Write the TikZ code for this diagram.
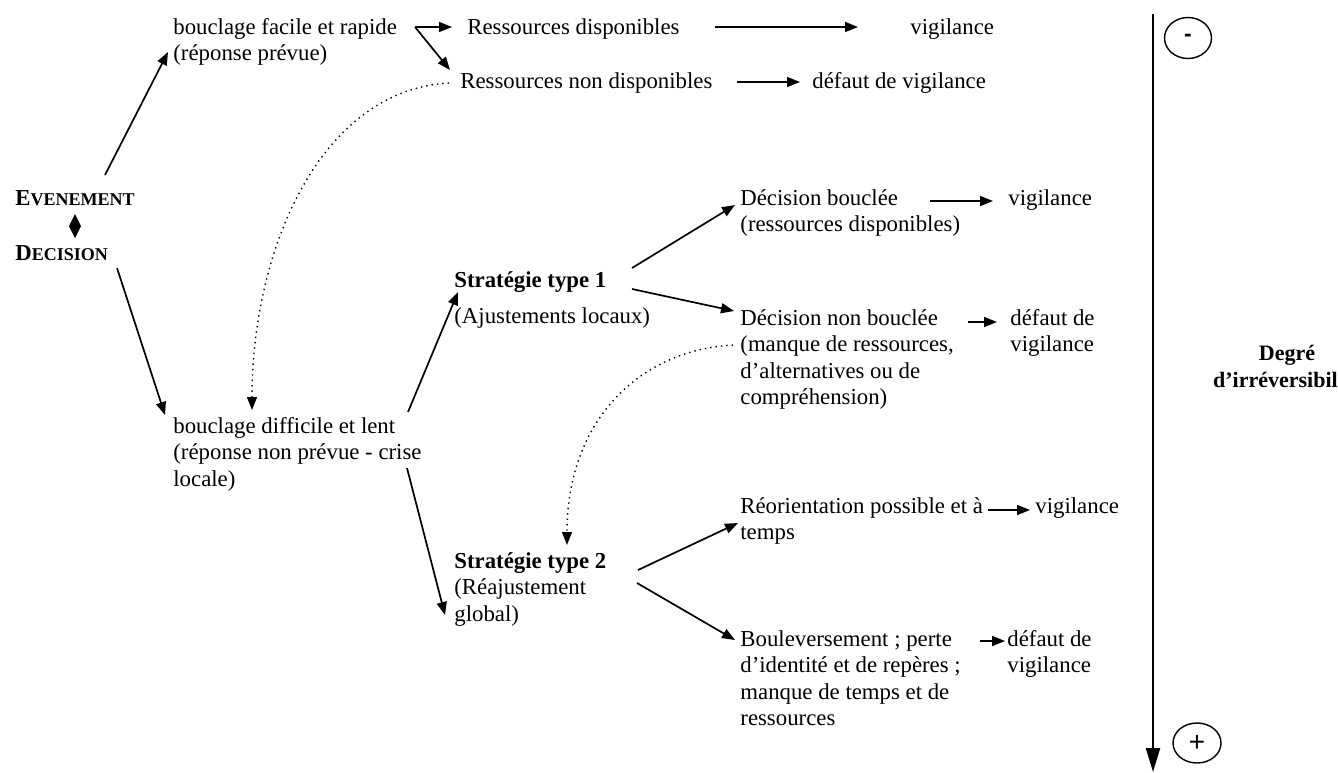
\documentclass[tikz,border=0pt]{standalone}
\usepackage{fontspec}
\setmainfont{Liberation Serif}
\newfontfamily\sansf{Liberation Sans}
\usetikzlibrary{arrows.meta,shapes.geometric,calc}
\newcommand{\lignes}[1]{\begin{tabular}[t]{@{}l@{}}#1\end{tabular}}

\begin{document}
\begin{tikzpicture}[x = 0.5pt, y = -0.5pt,
    every node/.style = {inner sep = 0pt, anchor = base west,
      font = \fontsize{11.4}{13.25}\selectfont},
    fleche/.style = {-{Triangle[length = 6.5pt, width = 5pt]}, line width = 0.85pt},
    pointille/.style = {dotted, -{Triangle[length = 6.5pt, width = 5pt]}, line width = 0.7pt}]
    \useasboundingbox (0,0) rectangle (1338,772);

    \node (ev) at (15,205) {\bfseries E{\fontsize{9}{10}\selectfont VENEMENT}};
    \fill (75,214) -- (81,226) -- (75,238) -- (69,226) -- cycle;
    \node (dec) at (15,260) {\bfseries D{\fontsize{9}{10}\selectfont ECISION}};

    \node (bf) at (173,34) {\lignes{bouclage facile et rapide\\(réponse prévue)}};
    \node (rd) at (467,34) {Ressources disponibles};
    \node (v1) at (910,34) {vigilance};
    \node (rnd) at (460,88) {Ressources non disponibles};
    \node (dv1) at (812,88) {défaut de vigilance};

    \node (bd) at (173,433) {\lignes{bouclage difficile et lent\\(réponse non prévue - crise\\locale)}};
    \node (s1) at (454,287) {\lignes{\bfseries Stratégie type 1\\[4.75pt](Ajustements locaux)}};
    \node (s2) at (454,568) {\lignes{\bfseries Stratégie type 2\\(Réajustement\\global)}};

    \node (d1) at (740,205) {\lignes{Décision bouclée\\(ressources disponibles)}};
    \node (v2) at (1008,205) {vigilance};
    \node (d2) at (740,325) {\lignes{Décision non bouclée\\(manque de ressources,\\d’alternatives ou de\\compréhension)}};
    \node (dv2) at (1010,325) {\lignes{défaut de\\vigilance}};
    \node (r1) at (740,513) {\lignes{Réorientation possible et à\\temps}};
    \node (v3) at (1035,513) {vigilance};
    \node (b1) at (740,646) {\lignes{Bouleversement ; perte\\d’identité et de repères ;\\manque de temps et de\\ressources}};
    \node (dv3) at (1007,646) {\lignes{défaut de\\vigilance}};

    \draw[fleche] ($(ev.base west)+(90,-30)$) -- ($(bf.base west)+(-5,18)$);
    \draw[fleche] ($(dec.base west)+(102,8)$) -- ($(bd.base west)+(-8,-18)$);
    \draw[fleche] ($(bf.base west)+(242,-7)$) -- ($(rd.base west)+(-15,-7)$);
    \draw[fleche] ($(bf.base west)+(242,-7)$) -- ($(rnd.base west)+(-10,-18)$);
    \draw[fleche] ($(rd.base west)+(248,-7)$) -- ($(v1.base west)+(-52,-7)$);
    \draw[fleche] ($(rnd.base west)+(277,-6)$) -- ($(dv1.base west)+(-12,-6)$);
    \draw[pointille] ($(rnd.base west)+(-11,-5)$) .. controls (320,90) and (252,250) .. ($(bd.base west)+(79,-23)$);

    \draw[fleche] ($(bd.base west)+(235,-21)$) -- ($(s1.base west)+(4,5)$);
    \draw[fleche] ($(bd.base west)+(234,35)$) -- ($(s2.base west)+(-9,47)$);
    \draw[fleche] ($(s1.base west)+(178,-19)$) -- ($(d1.base west)+(-5,0)$);
    \draw[fleche] ($(s1.base west)+(178,2)$) -- ($(d2.base west)+(-6,-14)$);
    \draw[fleche] ($(d1.base west)+(190,-4)$) -- ($(v2.base west)+(-15,-4)$);
    \draw[fleche] ($(d2.base west)+(228,-3)$) -- ($(dv2.base west)+(-13,-3)$);
    \draw[pointille] ($(d2.base west)+(-7,20)$) .. controls (640,350) and (567,420) .. ($(s2.base west)+(113,-23)$);

    \draw[fleche] ($(s2.base west)+(184,2)$) -- ($(r1.base west)+(-2,10)$);
    \draw[fleche] ($(s2.base west)+(183,15)$) -- ($(b1.base west)+(-5,-6)$);
    \draw[fleche] ($(r1.base west)+(248,-3)$) -- ($(v3.base west)+(-5,-3)$);
    \draw[fleche] ($(b1.base west)+(240,-5)$) -- ($(dv3.base west)+(-2,-5)$);

    \draw[-{Triangle[length = 12pt, width = 7pt]}, line width = 1.1pt] (1153,14) -- (1153,772);
    \node[draw, ellipse, line width = 0.7pt, anchor = center, minimum width = 23.5pt, minimum height = 20.5pt] (moins) at (1188,38) {\sansf\bfseries -};
    \node[draw, ellipse, line width = 0.7pt, anchor = center, minimum width = 24pt, minimum height = 20pt] (plus) at (1197,743) {\sansf\fontsize{14}{14}\selectfont +};
    \node[anchor = base, align = center, font = \fontsize{11}{13.25}\selectfont\bfseries] (deg) at (1287,387) {Degré\\d’irréversibilité};
\end{tikzpicture}
\end{document}
